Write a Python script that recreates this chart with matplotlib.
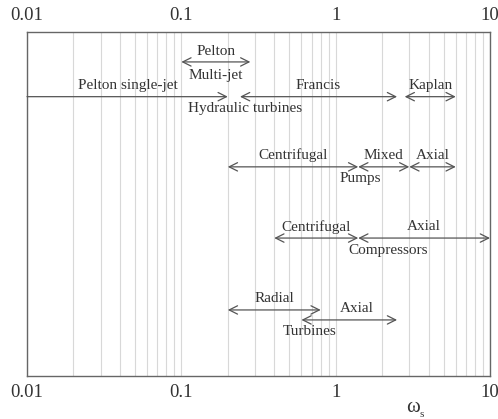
import matplotlib

matplotlib.use("Agg")
import matplotlib.pyplot as plt
from matplotlib import ticker
import numpy as np

# specific speed ranges for each machine family (omega_s)
hydro_labels = ["Pelton single-jet", "Francis", "Kaplan"]
hydro_lo = [0.01, 0.24, 2.8]
hydro_hi = [0.2, 2.5, 6.0]

multijet_lo = 0.1
multijet_hi = 0.28

pump_labels = ["Centrifugal", "Mixed", "Axial"]
pump_lo = [0.2, 1.4, 3.0]
pump_hi = [1.4, 3.0, 6.0]

comp_labels = ["Centrifugal", "Axial"]
comp_lo = [0.4, 1.4]
comp_hi = [1.4, 10.0]

turb_labels = ["Radial", "Axial"]
turb_lo = [0.2, 0.6]
turb_hi = [0.8, 2.5]

major_ticks = [0.01, 0.1, 1, 10]

TEXT_COLOR = "#333333"
ARROW_COLOR = "#555555"
GRID_COLOR = "#d8d8d8"
FONT = "Liberation Serif"

plt.rcParams["font.family"] = FONT

fig = plt.figure(figsize=(4.98, 4.19), dpi=100)
ax = fig.add_axes([27 / 498, 43 / 419, 463 / 498, 344 / 419])
ax.set_xscale("log")
ax.set_xlim(0.01, 10)
ax.set_ylim(0, 10)

ax.xaxis.set_major_locator(ticker.FixedLocator(major_ticks))
ax.xaxis.set_major_formatter(ticker.FuncFormatter(lambda v, _: f"{v:g}"))
ax.xaxis.set_minor_locator(ticker.LogLocator(base=10, subs=np.arange(2, 10)))
ax.xaxis.set_minor_formatter(ticker.NullFormatter())
ax.tick_params(axis="x", which="both", length=0, top=False, bottom=False,
               labeltop=True, labelbottom=True, labelsize=13.5,
               labelcolor=TEXT_COLOR, pad=6)
ax.set_yticks([])
ax.grid(True, axis="x", which="both", color=GRID_COLOR, linewidth=0.8)
for side in ax.spines.values():
    side.set_color("#666666")
    side.set_linewidth(1.0)


def arrow(lo, hi, y, style="<->"):
    ax.annotate("", xy=(hi, y), xytext=(lo, y),
                arrowprops=dict(arrowstyle=f"{style},head_length=0.6,head_width=0.3",
                                color=ARROW_COLOR, lw=0.9, shrinkA=0, shrinkB=0,
                                mutation_scale=10))


def label(x, y, s):
    ax.text(x, y, s, ha="center", va="center", fontsize=11, color=TEXT_COLOR)


def draw_row(labels, lo, hi, y, dy=0.33):
    for name, a, b in zip(labels, lo, hi):
        arrow(a, b, y)
        label(np.sqrt(a * b), y + dy, name)


# hydraulic turbines
draw_row(hydro_labels[1:], hydro_lo[1:], hydro_hi[1:], 8.12)
arrow(hydro_lo[0], hydro_hi[0], 8.12, style="->")
label(np.sqrt(hydro_lo[0] * hydro_hi[0]), 8.45, hydro_labels[0])
arrow(multijet_lo, multijet_hi, 9.13)
label(np.sqrt(multijet_lo * multijet_hi), 9.43, "Pelton")
label(np.sqrt(multijet_lo * multijet_hi), 8.75, "Multi-jet")
label(0.26, 7.79, "Hydraulic turbines")

# pumps
draw_row(pump_labels, pump_lo, pump_hi, 6.08)
label(1.44, 5.73, "Pumps")

# compressors
draw_row(comp_labels, comp_lo, comp_hi, 4.01)
label(2.19, 3.66, "Compressors")

# turbines
arrow(turb_lo[0], turb_hi[0], 1.92)
label(np.sqrt(turb_lo[0] * turb_hi[0]), 2.25, turb_labels[0])
arrow(turb_lo[1], turb_hi[1], 1.63)
label(1.37, 1.96, turb_labels[1])
label(0.68, 1.28, "Turbines")

# axis name: omega with subscript s, below the bottom labels
fig.text(413 / 498, 1 - 407 / 419, "ω", ha="center", va="center",
         fontsize=15, color=TEXT_COLOR)
fig.text(422 / 498, 1 - 414 / 419, "s", ha="center", va="center",
         fontsize=8, color=TEXT_COLOR)

fig.savefig("out.png", dpi=100)
